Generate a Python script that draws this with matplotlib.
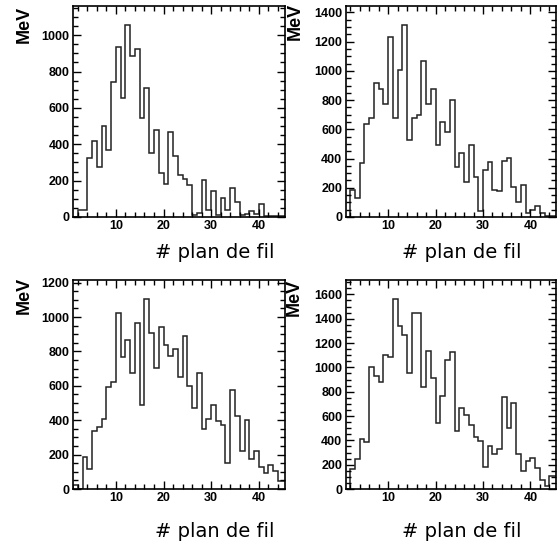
import numpy as np
import matplotlib
matplotlib.use("Agg")
import matplotlib.pyplot as plt
from matplotlib.ticker import MultipleLocator

# energy per wire plane (MeV), bins 1..45
edges = np.arange(1, 47)
top_left = [0, 40, 40, 324, 420, 274, 498, 368, 744, 935,
            652, 1055, 885, 926, 546, 707, 352, 478, 240, 181,
            470, 333, 231, 207, 174, 9, 24, 202, 40, 141,
            13, 102, 40, 157, 83, 9, 15, 33, 18, 70,
            4, 3, 3, 3, 3]
top_right = [0, 188, 133, 371, 634, 679, 920, 874, 776, 1229,
             679, 1007, 1313, 525, 680, 695, 1065, 775, 878, 495,
             650, 585, 800, 345, 435, 240, 490, 275, 40, 320,
             378, 185, 175, 385, 405, 205, 100, 220, 25, 45,
             78, 30, 10, 10, 10]
bottom_left = [25, 0, 184, 116, 340, 360, 410, 596, 621, 1022,
               766, 867, 673, 964, 490, 1105, 906, 702, 944, 838,
               776, 813, 650, 892, 600, 470, 677, 350, 406, 486,
               395, 373, 151, 577, 426, 219, 403, 174, 219, 128,
               93, 137, 106, 48, 48]
bottom_right = [0, 164, 246, 413, 383, 1006, 925, 878, 1105, 1083,
                1562, 1343, 1266, 957, 1444, 1444, 837, 1138, 911, 541,
                766, 1061, 1130, 479, 665, 610, 525, 424, 391, 180,
                350, 290, 331, 755, 500, 706, 287, 145, 227, 254,
                172, 71, 22, 109, 104]

x_label = "# plan de fil"
y_label = "MeV"

W, H = 557, 549
fig = plt.figure(figsize=(W / 100, H / 100), dpi=100)

# (left, top, right, bottom) in pixels, plus label anchors
panels = [
    (top_left, (73, 6, 285, 217), (24.5, 6), (155, 243)),
    (top_right, (345.5, 6, 556.5, 217), (295, 3), (402, 243)),
    (bottom_left, (73, 280, 285, 489), (24.5, 277), (155, 522)),
    (bottom_right, (345.5, 280, 556.5, 489), (294, 279), (402, 522)),
]

for vals, (l, t, r, b), (mx, my), (lx, ly) in panels:
    ax = fig.add_axes([l / W, 1 - b / H, (r - l) / W, (b - t) / H])
    ax.stairs(vals, edges, color="#222222", lw=1.1)
    ax.set_xlim(1, 45.5)
    ax.set_ylim(0, 1.1 * max(vals))
    ax.xaxis.set_major_locator(MultipleLocator(10))
    ax.xaxis.set_minor_locator(MultipleLocator(2))
    ax.yaxis.set_major_locator(MultipleLocator(200))
    ax.yaxis.set_minor_locator(MultipleLocator(50))
    ax.tick_params(which="both", direction="in", top=True, right=True, width=1.0)
    ax.tick_params(which="major", length=6)
    ax.tick_params(which="minor", length=3.5)
    ax.tick_params(axis="x", pad=2)
    ax.tick_params(axis="y", pad=2.5)
    for s in ax.spines.values():
        s.set_linewidth(1.2)
    for lab in ax.get_xticklabels() + ax.get_yticklabels():
        lab.set_fontfamily("Liberation Sans")
        lab.set_fontweight("bold")
        lab.set_fontsize(9)
    fig.text(mx / W, 1 - my / H, y_label, rotation=90, ha="center", va="top",
             fontsize=13, fontweight="bold", family="Liberation Sans")
    fig.text(lx / W, 1 - ly / H, x_label, ha="left", va="top",
             fontsize=14, family="DejaVu Sans")

fig.savefig("out.png", dpi=100)
